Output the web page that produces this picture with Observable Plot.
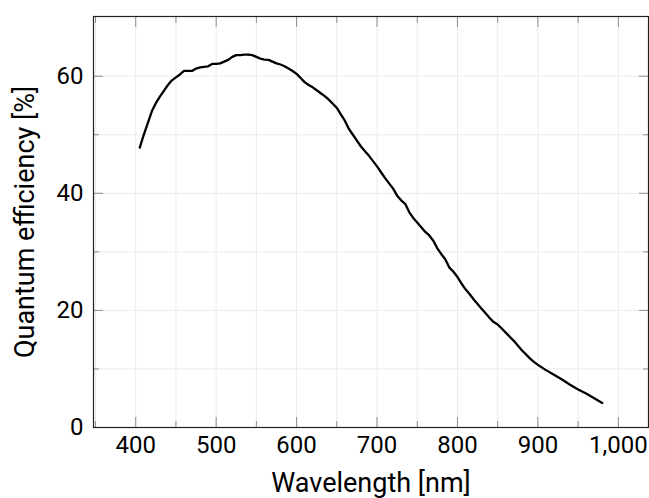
<!DOCTYPE html>
<html>
<head>
<meta charset="utf-8">
<script src="https://cdn.jsdelivr.net/npm/d3@7"></script>
<script src="https://cdn.jsdelivr.net/npm/@observablehq/plot@0.6"></script>
<style>
  html, body { margin: 0; padding: 0; background: #fff; }
  g[aria-label="x-axis label"] text, g[aria-label="y-axis label"] text { font-size: 27px; }
</style>
</head>
<body>
<div id="chart"></div>
<script>
const wavelength = [405,410,415,420,425,430,435,440,445,450,455,460,465,470,475,480,485,490,495,500,
  505,510,515,520,525,530,535,540,545,550,555,560,565,570,575,580,585,590,595,600,
  605,610,615,620,625,630,635,640,645,650,655,660,665,670,675,680,685,690,695,700,
  705,710,715,720,725,730,735,740,745,750,755,760,765,770,775,780,785,790,795,800,
  805,810,815,820,825,830,835,840,845,850,855,860,865,870,875,880,885,890,895,900,
  910,920,930,940,950,960,970,980];
const efficiency = [47.8,50.0,52.0,54.0,55.4,56.5,57.5,58.5,59.3,59.8,60.3,60.9,60.9,60.9,61.3,61.5,61.6,61.7,62.1,62.1,
  62.2,62.5,62.8,63.3,63.6,63.6,63.7,63.7,63.6,63.3,63.0,62.85,62.8,62.5,62.2,62.0,61.7,61.3,60.9,60.4,
  59.7,59.0,58.5,58.1,57.6,57.1,56.6,56.0,55.3,54.6,53.5,52.4,51.0,50.0,49.0,48.0,47.2,46.4,45.5,44.6,
  43.6,42.6,41.7,40.8,39.6,38.8,38.2,36.8,35.8,35.0,34.2,33.4,32.8,31.9,30.6,29.6,28.7,27.3,26.6,25.7,
  24.6,23.6,22.8,21.9,21.1,20.3,19.5,18.7,18.0,17.6,16.9,16.2,15.5,14.8,14.0,13.2,12.5,11.8,11.2,10.7,
  9.8,9.0,8.2,7.3,6.5,5.8,5.0,4.2];

const xMajorTicks = [400,500,600,700,800,900,1000];
const xMinorTicks = [350,450,550,650,750,850,950];
const yMajorTicks = [0,20,40,60];
const yMinorTicks = [10,30,50];

const xLabel = "Wavelength [nm]";
const yLabel = "Quantum efficiency [%]";

const data = wavelength.map((w, i) => ({w, q: efficiency[i]}));
const allX = xMajorTicks.concat(xMinorTicks);
const allY = yMajorTicks.concat(yMinorTicks);

const tickColor = "#8c8c8c";
const majorLen = 10, minorLen = 6;

const chart = Plot.plot({
  width: 649,
  height: 498,
  marginLeft: 93,
  marginRight: 1,
  marginTop: 16,
  marginBottom: 71,
  style: {fontFamily: "Roboto, 'Open Sans', sans-serif", fontSize: "24px", color: "#000", background: "#fff"},
  x: {domain: [347.5, 1037.5]},
  y: {domain: [0, 70.2]},
  marks: [
    Plot.gridX(allX, {stroke: "#ececec", strokeOpacity: 1, strokeWidth: 1}),
    Plot.gridY(allY, {stroke: "#ececec", strokeOpacity: 1, strokeWidth: 1}),
    // inward ticks on all four sides
    Plot.axisX(xMajorTicks, {anchor: "bottom", tickSize: majorLen, dy: -majorLen, stroke: tickColor, fill: "none", label: null}),
    Plot.axisX(xMinorTicks, {anchor: "bottom", tickSize: minorLen, dy: -minorLen, stroke: tickColor, fill: "none", label: null}),
    Plot.axisX(xMajorTicks, {anchor: "top", tickSize: majorLen, dy: majorLen, stroke: tickColor, fill: "none", label: null}),
    Plot.axisX(xMinorTicks, {anchor: "top", tickSize: minorLen, dy: minorLen, stroke: tickColor, fill: "none", label: null}),
    Plot.axisY(yMajorTicks, {anchor: "left", tickSize: majorLen, dx: majorLen, stroke: tickColor, fill: "none", label: null}),
    Plot.axisY(yMinorTicks, {anchor: "left", tickSize: minorLen, dx: minorLen, stroke: tickColor, fill: "none", label: null}),
    Plot.axisY(yMajorTicks, {anchor: "right", tickSize: majorLen, dx: -majorLen, stroke: tickColor, fill: "none", label: null}),
    Plot.axisY(yMinorTicks, {anchor: "right", tickSize: minorLen, dx: -minorLen, stroke: tickColor, fill: "none", label: null}),
    // labels
    Plot.axisX(xMajorTicks, {anchor: "bottom", tickSize: 0, tickPadding: 8, tickFormat: d3.format(","), fill: "#000",
      label: xLabel, labelAnchor: "center", labelOffset: 64, labelArrow: "none"}),
    Plot.axisY(yMajorTicks, {anchor: "left", tickSize: 0, tickPadding: 10, fill: "#000",
      label: yLabel, labelAnchor: "center", labelOffset: 79, labelArrow: "none"}),
    Plot.line(data, {x: "w", y: "q", stroke: "#000", strokeWidth: 2.3, strokeLinejoin: "round"}),
    Plot.frame({stroke: "#222", strokeWidth: 1.2})
  ]
});
document.getElementById("chart").appendChild(chart);
</script>
</body>
</html>
